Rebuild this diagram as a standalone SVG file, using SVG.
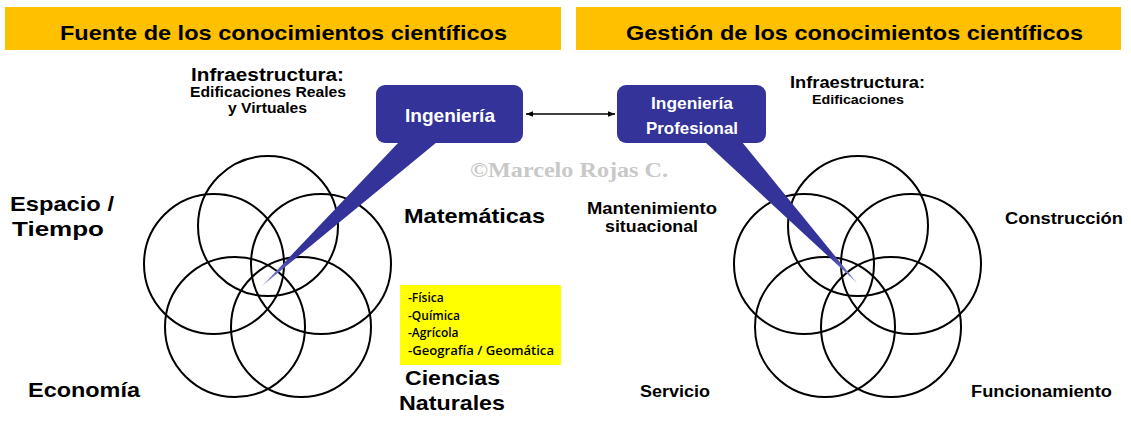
<svg xmlns="http://www.w3.org/2000/svg" width="1131" height="425" viewBox="0 0 1131 425">
<style>
.hdr{fill:#FFC000}
.ht{font-family:"Liberation Sans",Arial,sans-serif;font-weight:bold;font-size:21px;fill:#000;text-anchor:middle}
.lb{font-family:"Liberation Sans",Arial,sans-serif;font-weight:bold;fill:#000;text-anchor:middle}
.c{fill:none;stroke:#000;stroke-width:2}
.box{fill:#333399}
.bt{font-family:"Liberation Sans",Arial,sans-serif;font-weight:bold;fill:#fff;text-anchor:middle}
.yl{font-family:"Open Sans",sans-serif;font-weight:600;font-size:12px;fill:#000}
</style>
<defs>
<linearGradient id="gL" x1="420" y1="143" x2="262" y2="286" gradientUnits="userSpaceOnUse">
<stop offset="0" stop-color="#333399"/><stop offset="0.8" stop-color="#333399"/><stop offset="1" stop-color="#9999dd"/>
</linearGradient>
<linearGradient id="gR" x1="723" y1="143" x2="857" y2="283" gradientUnits="userSpaceOnUse">
<stop offset="0" stop-color="#333399"/><stop offset="0.8" stop-color="#333399"/><stop offset="1" stop-color="#9999dd"/>
</linearGradient>
<marker id="ah" viewBox="0 0 10 10" refX="10" refY="5" markerWidth="7" markerHeight="7" orient="auto-start-reverse" markerUnits="userSpaceOnUse">
<path d="M0,1 L10,5 L0,9 z" fill="#000"/>
</marker>
</defs>

<g id="header-left"><rect class="hdr" x="5" y="7" width="556" height="43"/><text class="ht" x="283.5" y="39.5" textLength="447" lengthAdjust="spacingAndGlyphs">Fuente de los conocimientos científicos</text></g>
<g id="header-right"><rect class="hdr" x="576" y="7" width="545" height="43"/><text class="ht" x="854.5" y="39.5" textLength="457" lengthAdjust="spacingAndGlyphs">Gestión de los conocimientos científicos</text></g>

<g id="venn-left">
<circle class="c" cx="268" cy="226" r="70"/>
<circle class="c" cx="214" cy="264" r="70"/>
<circle class="c" cx="321" cy="264" r="70"/>
<circle class="c" cx="235" cy="327" r="70"/>
<circle class="c" cx="301" cy="327" r="70"/>
</g>
<g id="venn-right">
<circle class="c" cx="858" cy="226" r="70"/>
<circle class="c" cx="804" cy="264" r="70"/>
<circle class="c" cx="911" cy="264" r="70"/>
<circle class="c" cx="825" cy="327" r="70"/>
<circle class="c" cx="891" cy="327" r="70"/>
</g>

<g id="node-ingenieria">
<path d="M399,142 L437,142 L262,286 Z" fill="url(#gL)"/>
<rect class="box" x="376" y="85" width="147" height="58" rx="9"/>
<text class="bt" x="450" y="122" font-size="19" textLength="90" lengthAdjust="spacingAndGlyphs">Ingeniería</text>
</g>
<g id="node-ingenieria-profesional">
<path d="M705,142 L742,142 L857,283 Z" fill="url(#gR)"/>
<rect class="box" x="617" y="85" width="149" height="58" rx="9"/>
<text class="bt" x="692" y="109" font-size="17" textLength="82" lengthAdjust="spacingAndGlyphs">Ingeniería</text>
<text class="bt" x="692" y="134" font-size="17" textLength="92" lengthAdjust="spacingAndGlyphs">Profesional</text>
</g>

<g id="connectors">
<line x1="526" y1="114" x2="615" y2="114" stroke="#000" stroke-width="1.5" marker-start="url(#ah)" marker-end="url(#ah)"/>
</g>

<g id="label-infra-left">
<text class="lb" x="267.5" y="81" font-size="18" textLength="153" lengthAdjust="spacingAndGlyphs">Infraestructura:</text>
<text class="lb" x="268" y="97" font-size="14" textLength="156" lengthAdjust="spacingAndGlyphs">Edificaciones Reales</text>
<text class="lb" x="267.5" y="113" font-size="14" textLength="79" lengthAdjust="spacingAndGlyphs">y Virtuales</text>
</g>
<g id="label-infra-right">
<text class="lb" x="857.5" y="88" font-size="16" textLength="135" lengthAdjust="spacingAndGlyphs">Infraestructura:</text>
<text class="lb" x="858" y="104" font-size="13" textLength="92" lengthAdjust="spacingAndGlyphs">Edificaciones</text>
</g>

<g id="label-espacio"><text class="lb" x="62" y="211" font-size="21" textLength="104" lengthAdjust="spacingAndGlyphs">Espacio /</text><text class="lb" x="58" y="236" font-size="21" textLength="92" lengthAdjust="spacingAndGlyphs">Tiempo</text></g>
<g id="label-matematicas"><text class="lb" x="474.5" y="223" font-size="21" textLength="141" lengthAdjust="spacingAndGlyphs">Matemáticas</text></g>
<g id="label-economia"><text class="lb" x="84" y="397" font-size="21" textLength="112" lengthAdjust="spacingAndGlyphs">Economía</text></g>
<g id="label-ciencias"><text class="lb" x="452.5" y="385" font-size="21" textLength="95" lengthAdjust="spacingAndGlyphs">Ciencias</text><text class="lb" x="452" y="410" font-size="21" textLength="106" lengthAdjust="spacingAndGlyphs">Naturales</text></g>

<g id="yellow-box">
<rect x="400" y="285" width="161" height="80" fill="#FFFF00"/>
<text class="yl" x="408" y="302">-Física</text>
<text class="yl" x="408" y="320">-Química</text>
<text class="yl" x="408" y="337">-Agrícola</text>
<text class="yl" x="408" y="355" textLength="146" lengthAdjust="spacingAndGlyphs">-Geografía / Geomática</text>
</g>

<g id="label-mantenimiento"><text class="lb" x="652" y="214" font-size="16" textLength="130" lengthAdjust="spacingAndGlyphs">Mantenimiento</text><text class="lb" x="651.5" y="232" font-size="16" textLength="93" lengthAdjust="spacingAndGlyphs">situacional</text></g>
<g id="label-construccion"><text class="lb" x="1064" y="224" font-size="16" textLength="118" lengthAdjust="spacingAndGlyphs">Construcción</text></g>
<g id="label-servicio"><text class="lb" x="675" y="397" font-size="16" textLength="70" lengthAdjust="spacingAndGlyphs">Servicio</text></g>
<g id="label-funcionamiento"><text class="lb" x="1041.5" y="397" font-size="16" textLength="141" lengthAdjust="spacingAndGlyphs">Funcionamiento</text></g>

<text x="569" y="177" font-family="'Liberation Serif','Times New Roman',serif" font-weight="bold" font-size="21" fill="#c8c8c8" text-anchor="middle" textLength="198" lengthAdjust="spacingAndGlyphs">©Marcelo Rojas C.</text>
</svg>
